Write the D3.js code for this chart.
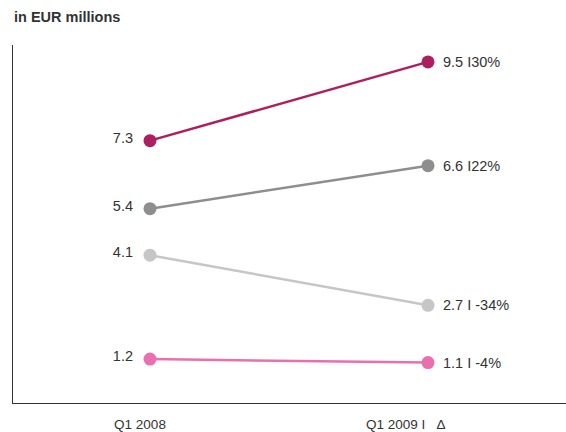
<!DOCTYPE html>
<html><head><meta charset="utf-8">
<script src="https://cdn.jsdelivr.net/npm/d3@7"></script>
<style>body{margin:0;background:#fff}svg{display:block}text{font-family:"Liberation Sans",Arial,sans-serif}</style>
</head><body>
<svg id="c" width="566" height="432"></svg>
<script>
const categories = ["Q1 2008", "Q1 2009 I   \u0394"];
const seriesNames = ["A", "B", "C", "D"];
const values2008 = [7.3, 5.4, 4.1, 1.2];
const values2009 = [9.5, 6.6, 2.7, 1.1];
const rightLabels = ["9.5 I30%", "6.6 I22%", "2.7 I -34%", "1.1 I -4%"];
const colors = ["#ad1f5f", "#8e8e8e", "#c6c6c6", "#ea6fae"];

const svg = d3.select("#c");
const x = d3.scalePoint().domain(categories).range([150, 428]);
const y = d3.scaleLinear().domain([0, 10]).range([402, 44]);

svg.append("text").attr("x", 14).attr("y", 22).attr("font-size", 14.5).attr("font-weight", "bold")
  .attr("fill", "#333").text("in EUR millions");

svg.append("line").attr("x1", 12.5).attr("x2", 12.5).attr("y1", 45).attr("y2", 403).attr("stroke", "#333").attr("stroke-width", 1);
svg.append("line").attr("x1", 12).attr("x2", 566).attr("y1", 403.5).attr("y2", 403.5).attr("stroke", "#333").attr("stroke-width", 1);

const data = seriesNames.map((s, i) => ({name: s, v: [values2008[i], values2009[i]], color: colors[i], label: rightLabels[i]}));

const line = d3.line().x((d, j) => x(categories[j])).y(d => y(d));
data.forEach(d => {
  svg.append("path").attr("d", line(d.v)).attr("fill", "none").attr("stroke", d.color).attr("stroke-width", 2.5);
  d.v.forEach((v, j) => {
    svg.append("circle").attr("cx", x(categories[j])).attr("cy", y(v)).attr("r", 6.5).attr("fill", d.color);
  });
  svg.append("text").attr("x", 133).attr("y", y(d.v[0]) - 3).attr("dy", "0.35em").attr("text-anchor", "end")
    .attr("font-size", 14.5).attr("fill", "#333").text(d3.format(".1f")(d.v[0]));
  svg.append("text").attr("x", 443).attr("y", y(d.v[1])).attr("dy", "0.35em")
    .attr("font-size", 14.5).attr("fill", "#333").text(d.label);
});

svg.append("text").attr("x", x(categories[0]) - 10).attr("y", 429).attr("text-anchor", "middle")
  .attr("font-size", 13.5).attr("fill", "#333").text(categories[0]);
svg.append("text").attr("x", x(categories[1]) - 62).attr("y", 429).attr("text-anchor", "start")
  .attr("font-size", 13.5).attr("fill", "#333").style("white-space", "pre").text(categories[1]);
</script>
</body></html>
